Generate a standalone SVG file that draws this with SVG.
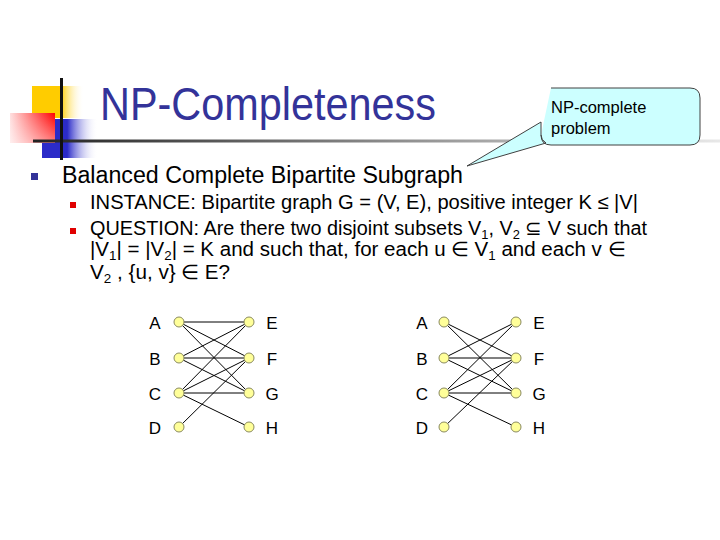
<svg xmlns="http://www.w3.org/2000/svg" width="720" height="540" viewBox="0 0 720 540">
<defs>
<linearGradient id="gY" x1="0" y1="0" x2="1" y2="0"><stop offset="0" stop-color="#ffcc00"/><stop offset="0.55" stop-color="#ffcc00"/><stop offset="1" stop-color="#ffffff" stop-opacity="0"/></linearGradient>
<linearGradient id="gR" x1="0" y1="0" x2="1" y2="0"><stop offset="0" stop-color="#ffe0e0"/><stop offset="1" stop-color="#ff0000"/></linearGradient>
<linearGradient id="gRv" x1="0" y1="0" x2="0" y2="1"><stop offset="0" stop-color="#fff" stop-opacity="0"/><stop offset="1" stop-color="#fff" stop-opacity="0.5"/></linearGradient>
<linearGradient id="gB" x1="0" y1="0" x2="1" y2="0"><stop offset="0" stop-color="#2b2bc8"/><stop offset="0.45" stop-color="#2b2bc8"/><stop offset="1" stop-color="#ffffff" stop-opacity="0"/></linearGradient>
<linearGradient id="gL" x1="0" y1="0" x2="1" y2="0"><stop offset="0" stop-color="#222"/><stop offset="0.5" stop-color="#888"/><stop offset="1" stop-color="#e8e8e8"/></linearGradient>
</defs>
<style>
text{font-family:"Liberation Sans",Arial,sans-serif;fill:#000}
.title{font-size:47px;fill:#333399}
.l1{font-size:23.5px}
.l2{font-size:20px}
.sub{font-size:13px}
.call{font-size:16.5px}
.lab{font-size:17px;text-anchor:middle}
.nd{fill:#ffff99;stroke:#8a8a60;stroke-width:1}
.ed{stroke:#000;stroke-width:1;fill:none}
</style>
<rect width="720" height="540" fill="#fff"/>
<g id="decor">
<rect x="32" y="86" width="52" height="32" fill="url(#gY)"/>
<rect x="42" y="119" width="56" height="39" fill="url(#gB)"/>
<rect x="10" y="113" width="45" height="30" fill="url(#gR)"/>
<rect x="10" y="113" width="45" height="30" fill="url(#gRv)"/>
<rect x="33" y="139.5" width="687" height="3" fill="url(#gL)"/>
<rect x="60" y="78" width="3" height="82" fill="#111"/>
</g>
<text class="title" x="100" y="120" textLength="336" lengthAdjust="spacingAndGlyphs">NP-Completeness</text>
<rect x="31" y="173" width="7" height="7" fill="#333399"/>
<text class="l1" x="62" y="183" textLength="401" lengthAdjust="spacingAndGlyphs">Balanced Complete Bipartite Subgraph</text>
<rect x="70" y="202" width="6" height="6" fill="#e00000"/>
<rect x="70" y="228" width="6" height="6" fill="#e00000"/>
<text class="l2" x="90" y="209" textLength="548" lengthAdjust="spacingAndGlyphs">INSTANCE: Bipartite graph G = (V, E), positive integer K ≤ |V|</text>
<text class="l2" x="90" y="235" textLength="557" lengthAdjust="spacingAndGlyphs">QUESTION: Are there two disjoint subsets V<tspan class="sub" dy="4">1</tspan><tspan dy="-4">, V</tspan><tspan class="sub" dy="4">2</tspan><tspan dy="-4"> ⊆ V such that</tspan></text>
<text class="l2" x="90" y="256" textLength="535" lengthAdjust="spacingAndGlyphs">|V<tspan class="sub" dy="4">1</tspan><tspan dy="-4">| = |V</tspan><tspan class="sub" dy="4">2</tspan><tspan dy="-4">| = K and such that, for each u ∈ V</tspan><tspan class="sub" dy="4">1</tspan><tspan dy="-4"> and each v ∈</tspan></text>
<text class="l2" x="90" y="279" textLength="140" lengthAdjust="spacingAndGlyphs">V<tspan class="sub" dy="4">2</tspan><tspan dy="-4"> , {u, v} ∈ E?</tspan></text>
<g id="callout">
<path d="M551,88 H690 Q700,88 700,98 V135 Q700,145 690,145 H551 Q541,145 541,135 V122 L467,166 L546,143 Q541,140 541,135" fill="#ccffff" stroke="#404040" stroke-width="1"/>
<text class="call" x="551" y="113">NP-complete</text>
<text class="call" x="551" y="134">problem</text>
</g>
<g id="connectors">
<line class="ed" x1="179" y1="322" x2="249" y2="322"/>
<line class="ed" x1="179" y1="322" x2="249" y2="358"/>
<line class="ed" x1="179" y1="322" x2="249" y2="393"/>
<line class="ed" x1="179" y1="358" x2="249" y2="322"/>
<line class="ed" x1="179" y1="358" x2="249" y2="358"/>
<line class="ed" x1="179" y1="358" x2="249" y2="393"/>
<line class="ed" x1="179" y1="393" x2="249" y2="322"/>
<line class="ed" x1="179" y1="393" x2="249" y2="358"/>
<line class="ed" x1="179" y1="393" x2="249" y2="393"/>
<line class="ed" x1="179" y1="393" x2="249" y2="427"/>
<line class="ed" x1="179" y1="427" x2="249" y2="358"/>
<line class="ed" x1="444" y1="322" x2="516" y2="358"/>
<line class="ed" x1="444" y1="322" x2="516" y2="393"/>
<line class="ed" x1="444" y1="358" x2="516" y2="322"/>
<line class="ed" x1="444" y1="358" x2="516" y2="358"/>
<line class="ed" x1="444" y1="358" x2="516" y2="393"/>
<line class="ed" x1="444" y1="393" x2="516" y2="322"/>
<line class="ed" x1="444" y1="393" x2="516" y2="358"/>
<line class="ed" x1="444" y1="393" x2="516" y2="393"/>
<line class="ed" x1="444" y1="393" x2="516" y2="427"/>
<line class="ed" x1="444" y1="427" x2="516" y2="358"/>
</g>
<g id="L-A"><circle class="nd" cx="179" cy="322" r="5"/><text class="lab" x="155" y="329">A</text></g>
<g id="L-B"><circle class="nd" cx="179" cy="358" r="5"/><text class="lab" x="155" y="365">B</text></g>
<g id="L-C"><circle class="nd" cx="179" cy="393" r="5"/><text class="lab" x="155" y="400">C</text></g>
<g id="L-D"><circle class="nd" cx="179" cy="427" r="5"/><text class="lab" x="155" y="434">D</text></g>
<g id="L-E"><circle class="nd" cx="249" cy="322" r="5"/><text class="lab" x="272" y="329">E</text></g>
<g id="L-F"><circle class="nd" cx="249" cy="358" r="5"/><text class="lab" x="272" y="365">F</text></g>
<g id="L-G"><circle class="nd" cx="249" cy="393" r="5"/><text class="lab" x="272" y="400">G</text></g>
<g id="L-H"><circle class="nd" cx="249" cy="427" r="5"/><text class="lab" x="272" y="434">H</text></g>
<g id="R-A"><circle class="nd" cx="444" cy="322" r="5"/><text class="lab" x="422" y="329">A</text></g>
<g id="R-B"><circle class="nd" cx="444" cy="358" r="5"/><text class="lab" x="422" y="365">B</text></g>
<g id="R-C"><circle class="nd" cx="444" cy="393" r="5"/><text class="lab" x="422" y="400">C</text></g>
<g id="R-D"><circle class="nd" cx="444" cy="427" r="5"/><text class="lab" x="422" y="434">D</text></g>
<g id="R-E"><circle class="nd" cx="516" cy="322" r="5"/><text class="lab" x="539" y="329">E</text></g>
<g id="R-F"><circle class="nd" cx="516" cy="358" r="5"/><text class="lab" x="539" y="365">F</text></g>
<g id="R-G"><circle class="nd" cx="516" cy="393" r="5"/><text class="lab" x="539" y="400">G</text></g>
<g id="R-H"><circle class="nd" cx="516" cy="427" r="5"/><text class="lab" x="539" y="434">H</text></g>
</svg>
